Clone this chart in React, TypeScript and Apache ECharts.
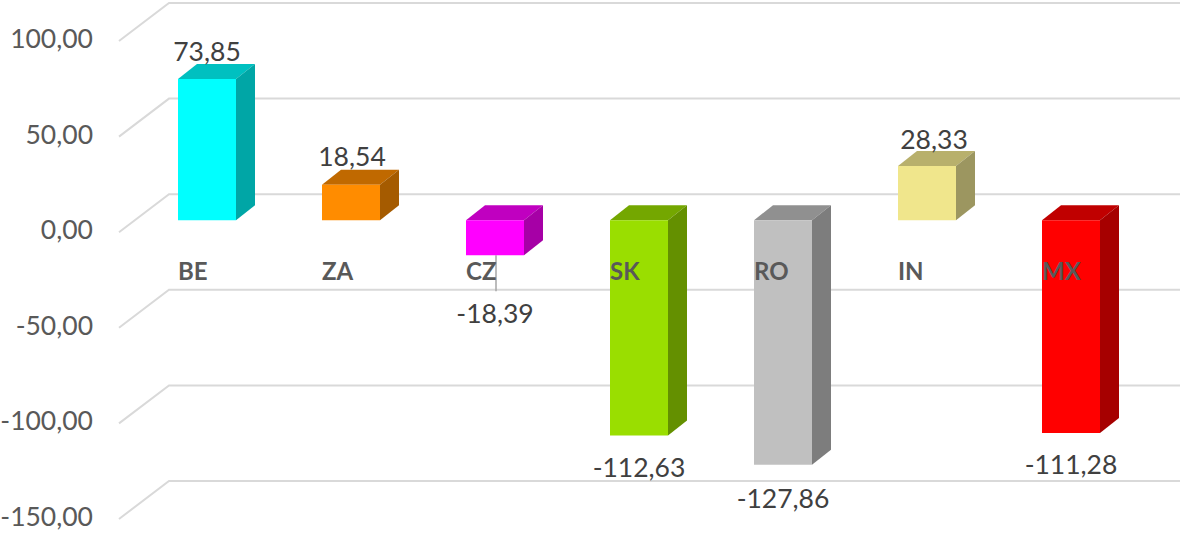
import React, { useEffect, useRef } from "react";
import * as echarts from "echarts";

const categories = ["BE", "ZA", "CZ", "SK", "RO", "IN", "MX"];
const values = [73.85, 18.54, -18.39, -112.63, -127.86, 28.33, -111.28];
const axisTicks = [100, 50, 0, -50, -100, -150];

const frontColors = ["#00FFFF", "#FF8C00", "#FF00FF", "#9ADE00", "#C0C0C0", "#F0E68C", "#FF0000"];
const topColors = ["#00C0C0", "#C06900", "#C000C0", "#74A700", "#909090", "#B8B06C", "#C00000"];
const sideColors = ["#00A6A6", "#A55B00", "#A600A6", "#649000", "#7D7D7D", "#9C9660", "#A60000"];

const FONT = "Lato, Carlito, Calibri, sans-serif";
const fmt = (v: number) => v.toFixed(2).replace(".", ",");

const BAR_W = 58;
const DX = 19;
const DY = -15;
const PLANE = -9; // bars stand on a plane slightly above the axis-label baseline
const labelShift: [number, number][] = [
  [0, -28], [1, -29], [0, 58], [0, 31], [0, 33], [7, -27], [0, 31],
];

export default function App() {
  const ref = useRef<HTMLDivElement>(null);
  useEffect(() => {
    const chart = echarts.init(ref.current!, undefined, { renderer: "svg" });
    chart.setOption({
      animation: false,
      backgroundColor: "#FFFFFF",
      grid: { left: 178, width: 864, top: 38, height: 478, outerBoundsMode: "none" },
      xAxis: {
        type: "category",
        data: categories,
        boundaryGap: false,
        z: 10,
        offset: -287,
        axisLine: { show: false, onZero: false },
        axisTick: { show: false },
        axisLabel: {
          align: "left",
          margin: 29,
          interval: 0,
          fontFamily: FONT,
          fontSize: 24,
          fontWeight: "bold",
          color: "#595959",
          hideOverlap: false,
        },
      },
      yAxis: {
        type: "value",
        min: -150,
        max: 100,
        interval: 50,
        splitLine: { show: false },
        axisLine: { show: false },
        axisTick: { show: false },
        axisLabel: {
          margin: 85,
          fontFamily: FONT,
          fontSize: 26.5,
          color: "#595959",
          formatter: (v: number) => fmt(v),
        },
      },
      series: [
        {
          type: "custom",
          name: "walls",
          silent: true,
          z: 1,
          data: axisTicks.map((t) => [0, t]),
          renderItem: (_p: any, api: any) => {
            const y = api.coord([0, api.value(1)])[1];
            return {
              type: "polyline",
              shape: { points: [[119, y + 3], [169, y - 35], [1180, y - 35]] },
              style: { stroke: "#D9D9D9", lineWidth: 2, fill: "none" },
            };
          },
        },
        {
          type: "custom",
          name: "bars",
          z: 2,
          data: values.map((v, i) => [i, v]),
          renderItem: (p: any, api: any) => {
            const i = p.dataIndex;
            const v = api.value(1);
            const [x, yv] = api.coord([i, v]);
            const y0 = api.coord([i, 0])[1];
            const top = Math.min(yv, y0) + PLANE;
            const bot = Math.max(yv, y0) + PLANE;
            const r = x + BAR_W;
            const children: any[] = [];
            if (i === 2) {
              children.push({
                type: "line",
                shape: { x1: x + 30, y1: bot, x2: x + 30, y2: bot + 36 },
                style: { stroke: "#A6A6A6", lineWidth: 1.5 },
              });
            }
            children.push(
              {
                type: "polygon",
                shape: { points: [[x, top], [r, top], [r + DX, top + DY], [x + DX, top + DY]] },
                style: { fill: topColors[i] },
              },
              {
                type: "polygon",
                shape: { points: [[r, top], [r + DX, top + DY], [r + DX, bot + DY], [r, bot]] },
                style: { fill: sideColors[i] },
              },
              {
                type: "rect",
                shape: { x, y: top, width: BAR_W, height: bot - top },
                style: { fill: frontColors[i] },
              },
              {
                type: "text",
                style: {
                  text: fmt(v),
                  x: x + BAR_W / 2 + labelShift[i][0],
                  y: (v >= 0 ? top : bot) + labelShift[i][1],
                  align: "center",
                  verticalAlign: "middle",
                  fontFamily: FONT,
                  fontSize: 26.5,
                  fill: "#404040",
                },
              }
            );
            return { type: "group", children };
          },
        },
      ],
    });
    return () => chart.dispose();
  }, []);
  return <div ref={ref} style={{ position: "fixed", left: 0, top: 0, width: 1180, height: 533 }} />;
}
